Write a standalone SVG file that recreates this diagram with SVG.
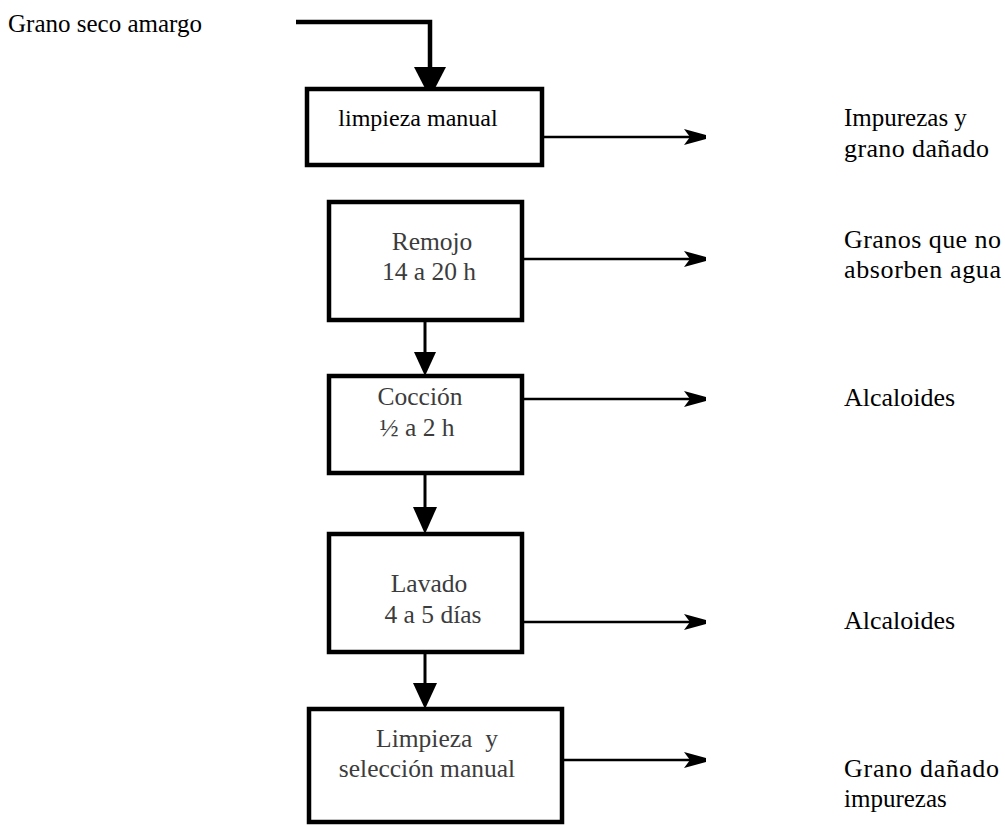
<svg xmlns="http://www.w3.org/2000/svg" width="1005" height="826" viewBox="0 0 1005 826">
  <style>
    .box { fill: #ffffff; stroke: #000000; stroke-width: 4.5; }
    .step { font-family: 'Liberation Serif', 'DejaVu Serif', serif; font-size: 25.5px; fill: #3c3c3c; text-anchor: middle; }
    .lbl { font-family: 'Liberation Serif', 'DejaVu Serif', serif; font-size: 26px; fill: #000000; }
    .flow { stroke: #000000; stroke-width: 3; fill: none; }
    .out { stroke: #000000; stroke-width: 2.5; fill: none; }
    .head { fill: #000000; }
  </style>
  <defs>
    <marker id="dart" markerUnits="userSpaceOnUse" markerWidth="24" markerHeight="20" refX="22" refY="10" orient="auto">
      <path d="M0,2 L22,8 L22,12 L0,18 L6,10 Z" fill="#000000"/>
    </marker>
  </defs>
  <rect width="1005" height="826" fill="#ffffff"/>

  <!-- input label -->
  <text class="lbl" x="8" y="32" style="font-size:25px">Grano seco amargo</text>

  <!-- connectors -->
  <g id="connectors">
    <polyline points="296,22 430,22 430,70" fill="none" stroke="#000" stroke-width="4.5"/>
    <polygon class="head" points="414,67 446,67 430,98"/>

    <line class="flow" x1="425" y1="320" x2="425" y2="354"/>
    <polygon class="head" points="414,352 436,352 425,376"/>
    <line class="flow" x1="425" y1="473" x2="425" y2="509"/>
    <polygon class="head" points="413,507 437,507 425,534"/>
    <line class="flow" x1="425" y1="652" x2="425" y2="685"/>
    <polygon class="head" points="413,683 437,683 425,709"/>

    <line class="out" x1="542" y1="137" x2="706" y2="137" marker-end="url(#dart)"/>
    <line class="out" x1="522" y1="259" x2="706" y2="259" marker-end="url(#dart)"/>
    <line class="out" x1="522" y1="399" x2="706" y2="399" marker-end="url(#dart)"/>
    <line class="out" x1="522" y1="622" x2="706" y2="622" marker-end="url(#dart)"/>
    <line class="out" x1="562" y1="760" x2="706" y2="760" marker-end="url(#dart)"/>
  </g>

  <!-- process steps -->
  <g id="limpieza-manual">
    <rect class="box" x="307" y="89" width="235" height="76"/>
    <text class="step" x="418" y="126" style="fill:#000;font-size:24px">limpieza manual</text>
  </g>
  <g id="remojo">
    <rect class="box" x="329" y="202" width="193" height="118"/>
    <text class="step" x="432" y="250">Remojo</text>
    <text class="step" x="429" y="280">14 a 20 h</text>
  </g>
  <g id="coccion">
    <rect class="box" x="329" y="376" width="193" height="97"/>
    <text class="step" x="420" y="405">Cocción</text>
    <text class="step" x="417" y="436">½ a 2 h</text>
  </g>
  <g id="lavado">
    <rect class="box" x="329" y="534" width="193" height="118"/>
    <text class="step" x="429" y="592">Lavado</text>
    <text class="step" x="433" y="623">4 a 5 días</text>
  </g>
  <g id="limpieza-seleccion">
    <rect class="box" x="309" y="709" width="253" height="113"/>
    <text class="step" x="437" y="747" xml:space="preserve">Limpieza  y</text>
    <text class="step" x="427" y="777">selección manual</text>
  </g>

  <!-- outputs -->
  <g id="out-impurezas">
    <text class="lbl" x="844" y="126" style="font-size:25px">Impurezas y</text>
    <text class="lbl" x="844" y="157" textLength="145">grano dañado</text>
  </g>
  <g id="out-granos">
    <text class="lbl" x="844" y="248" textLength="157">Granos que no</text>
    <text class="lbl" x="844" y="278" textLength="157">absorben agua</text>
  </g>
  <g id="out-alcaloides-1">
    <text class="lbl" x="844" y="406">Alcaloides</text>
  </g>
  <g id="out-alcaloides-2">
    <text class="lbl" x="844" y="629">Alcaloides</text>
  </g>
  <g id="out-grano-danado">
    <text class="lbl" x="844" y="777" textLength="155">Grano dañado</text>
    <text class="lbl" x="844" y="807" style="font-size:25px">impurezas</text>
  </g>
</svg>
